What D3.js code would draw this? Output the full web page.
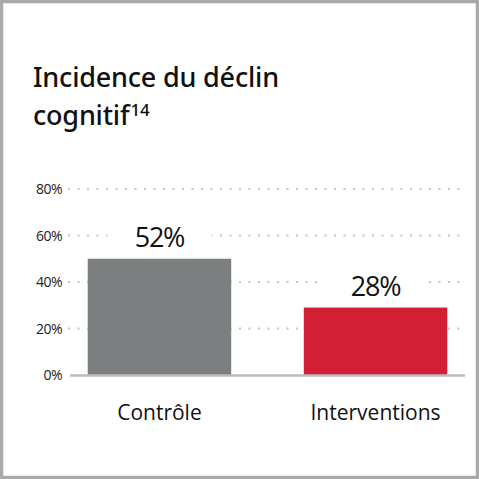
<!DOCTYPE html>
<html>
<head>
<meta charset="utf-8">
<script src="https://cdn.jsdelivr.net/npm/d3@7"></script>
<style>
  html, body { margin: 0; padding: 0; background: #fff; }
  svg { display: block; }
</style>
</head>
<body>
<svg id="chart"></svg>
<script>
const categories = ["Contrôle", "Interventions"];
const values = [50, 29];
const valueLabels = ["52%", "28%"];
const yTicks = [0, 20, 40, 60, 80];
const barColors = ["#7b7f80", "#d31f35"];

const INK = "#111";
const FONT = "'Open Sans', 'Noto Sans', sans-serif";
const TITLE_FONT = "'Noto Sans', 'Open Sans', sans-serif";
const width = 479;
const height = 479;

const svg = d3.select("#chart")
  .attr("width", width)
  .attr("height", height);

svg.append("rect")
  .attr("x", 1.5).attr("y", 1.5)
  .attr("width", width - 3).attr("height", height - 3)
  .attr("fill", "#fff")
  .attr("stroke", "#a9a9a9")
  .attr("stroke-width", 3.5);

// Title
const title = svg.append("text")
  .attr("font-family", TITLE_FONT)
  .attr("font-size", 27)
  .attr("font-weight", 500)
  .attr("letter-spacing", "-0.2")
  .attr("fill", INK);
title.append("tspan").attr("x", 33).attr("y", 87).text("Incidence du déclin");
const l2 = title.append("tspan").attr("x", 33).attr("y", 125).text("cognitif");
l2.append("tspan").attr("dx", 1).attr("dy", -9).attr("font-size", 17).text("14");

const x = d3.scaleBand()
  .domain(categories)
  .range([70, 465])
  .paddingInner(0.336)
  .paddingOuter(0.082);

const y = d3.scaleLinear()
  .domain([0, 80])
  .range([375, 189]);

// Dotted grid lines
svg.append("g")
  .selectAll("line")
  .data(yTicks.filter(d => d > 0))
  .join("line")
  .attr("x1", 68).attr("x2", 465)
  .attr("y1", d => y(d)).attr("y2", d => y(d))
  .attr("stroke", "#c4c4c4")
  .attr("stroke-width", 2)
  .attr("stroke-dasharray", "2 7.5");

// Y tick labels
svg.append("g")
  .selectAll("text")
  .data(yTicks)
  .join("text")
  .attr("x", 62)
  .attr("y", d => y(d) + 5)
  .attr("text-anchor", "end")
  .attr("font-family", FONT)
  .attr("font-size", 14)
  .attr("letter-spacing", "-0.5")
  .attr("fill", "#222")
  .text(d => `${d}%`);

// Bars
svg.append("g")
  .selectAll("rect")
  .data(values)
  .join("rect")
  .attr("x", (d, i) => x(categories[i]))
  .attr("y", d => y(d))
  .attr("width", x.bandwidth())
  .attr("height", d => y(0) - y(d))
  .attr("fill", (d, i) => barColors[i]);

// Baseline
svg.append("line")
  .attr("x1", 70).attr("x2", 465)
  .attr("y1", y(0) + 0.5).attr("y2", y(0) + 0.5)
  .attr("stroke", "#bcbcbc")
  .attr("stroke-width", 2.5);

// Value labels with white knock-out behind
values.forEach((v, i) => {
  const cx = x(categories[i]) + x.bandwidth() / 2;
  svg.append("rect")
    .attr("x", cx - 52)
    .attr("y", y(v) - 36)
    .attr("width", 104)
    .attr("height", 30)
    .attr("fill", "#fff");
  svg.append("text")
    .attr("x", cx)
    .attr("y", y(v) - 12)
    .attr("text-anchor", "middle")
    .attr("font-family", FONT)
    .attr("font-size", 27)
    .attr("letter-spacing", "-1.2")
    .attr("fill", INK)
    .text(valueLabels[i]);
});

// Category labels
svg.append("g")
  .selectAll("text")
  .data(categories)
  .join("text")
  .attr("x", d => x(d) + x.bandwidth() / 2)
  .attr("y", 420)
  .attr("text-anchor", "middle")
  .attr("font-family", FONT)
  .attr("font-size", 21)
  .attr("fill", INK)
  .text(d => d);
</script>
</body>
</html>
